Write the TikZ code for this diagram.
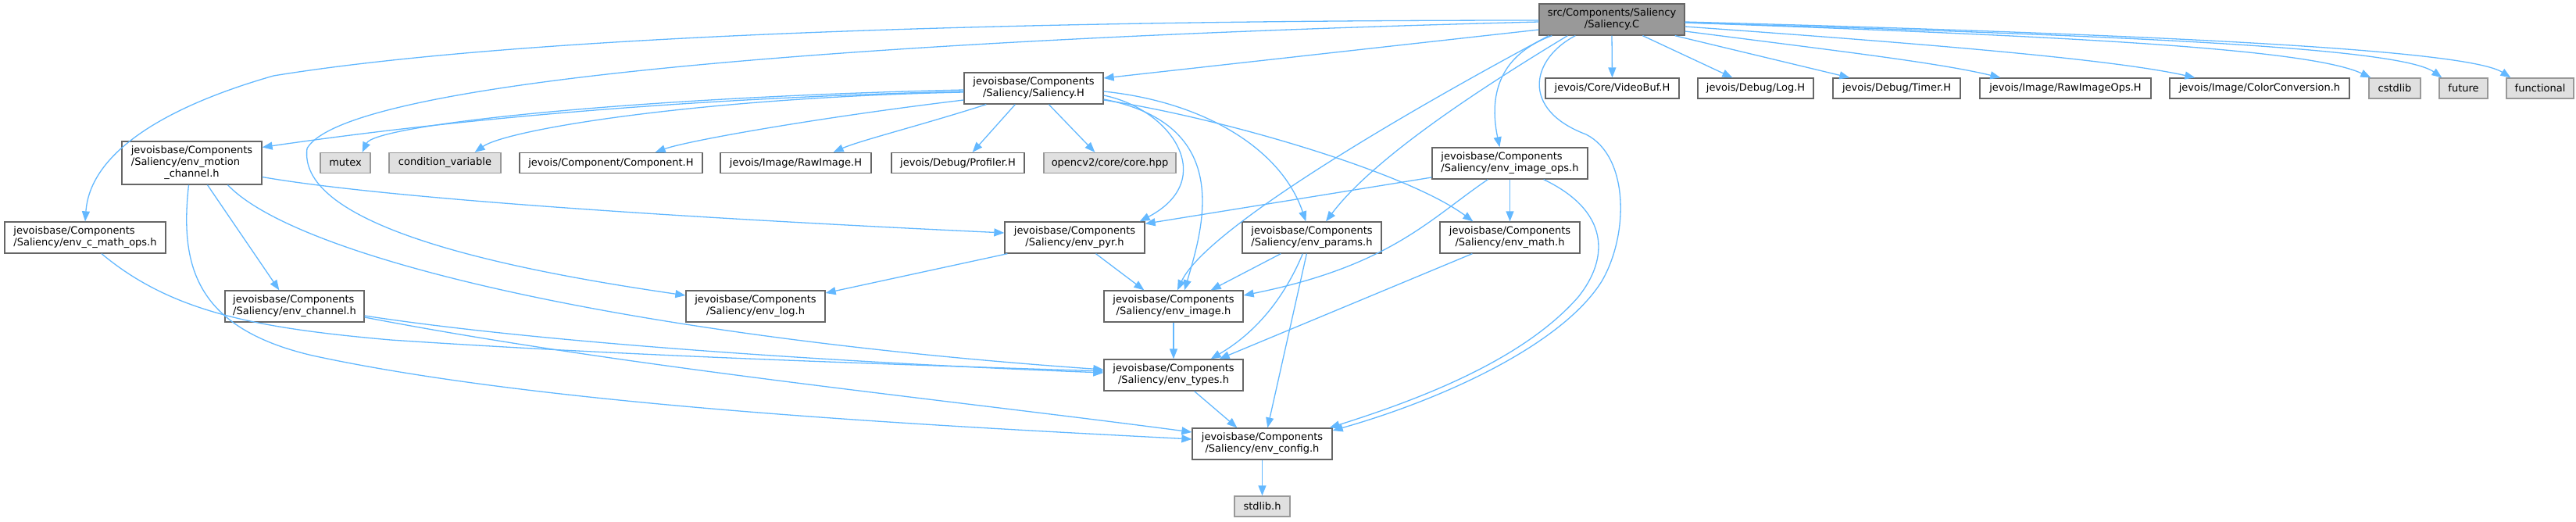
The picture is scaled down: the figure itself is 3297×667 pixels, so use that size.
\documentclass[tikz,border=0pt]{standalone}
\usepackage{fontspec}
\setmainfont{DejaVu Sans}
\usetikzlibrary{arrows.meta,calc}
\definecolor{edgec}{HTML}{63B8FF}
\definecolor{bordc}{HTML}{666666}
\definecolor{gfill}{HTML}{E0E0E0}
\definecolor{gbord}{HTML}{999999}
\definecolor{rootfill}{HTML}{999999}
\newcommand\twol[2]{\begin{tabular}{@{}l@{}}#1\\\multicolumn{1}{@{}c@{}}{#2}\end{tabular}}
\newcommand\threel[3]{\begin{tabular}{@{}l@{}}#1\\#2\\\multicolumn{1}{@{}c@{}}{#3}\end{tabular}}
\tikzset{
  nb/.style={draw=bordc, fill=white, line width=1.3pt, rectangle, inner sep=0pt, minimum height=26pt,
    font=\fontsize{13}{15}\selectfont},
  ng/.style={nb, draw=gbord, fill=gfill},
  nroot/.style={nb, fill=rootfill},
  e/.style={draw=edgec, line width=1.3pt, -{Triangle[length=13pt,width=10pt]}},
}
\begin{document}
\begin{tikzpicture}[x=1pt,y=-1pt]
\useasboundingbox (0,0) rectangle (3297,667);
% row 0
\node[nroot, minimum width=186pt, minimum height=40pt] (C) at (2063,25) {\twol{src/Components/Saliency}{/Saliency.C}};
% row 1
\node[nb, minimum width=178pt, minimum height=40pt] (H) at (1323,113) {\twol{jevoisbase/Components}{/Saliency/Saliency.H}};
\node[nb, minimum width=171pt] (VB) at (2063.5,113) {jevois/Core/VideoBuf.H};
\node[nb, minimum width=148pt] (LogH) at (2247,113) {jevois/Debug/Log.H};
\node[nb, minimum width=163pt] (Timer) at (2427.5,113) {jevois/Debug/Timer.H};
\node[nb, minimum width=219pt] (RIO) at (2643.5,113) {jevois/Image/RawImageOps.H};
\node[nb, minimum width=230pt] (CC) at (2892,113) {jevois/Image/ColorConversion.h};
\node[ng, minimum width=66pt] (cstdlib) at (3065,113) {cstdlib};
\node[ng, minimum width=62pt] (future) at (3153,113) {future};
\node[ng, minimum width=86pt] (functional) at (3251,113) {functional};
% row 2
\node[nb, minimum width=179pt, minimum height=55pt] (motion) at (245.5,208.5) {\threel{jevoisbase/Components}{/Saliency/env\_motion}{\_channel.h}};
\node[ng, minimum width=64pt] (mutex) at (442,208.5) {mutex};
\node[ng, minimum width=143pt] (cv) at (569.5,208.5) {condition\_variable};
\node[nb, minimum width=234pt] (comp) at (782,208.5) {jevois/Component/Component.H};
\node[nb, minimum width=193pt] (rimg) at (1018.5,208.5) {jevois/Image/RawImage.H};
\node[nb, minimum width=170pt] (prof) at (1226,208.5) {jevois/Debug/Profiler.H};
\node[ng, minimum width=169pt] (cvtwo) at (1420.5,208.5) {opencv2/core/core.hpp};
\node[nb, minimum width=199pt, minimum height=40pt] (iops) at (1932.5,209) {\twol{jevoisbase/Components}{/Saliency/env\_image\_ops.h}};
% row 3
\node[nb, minimum width=206pt, minimum height=40pt] (cmath) at (109,304) {\twol{jevoisbase/Components}{/Saliency/env\_c\_math\_ops.h}};
\node[nb, minimum width=179pt, minimum height=40pt] (pyr) at (1375.5,304) {\twol{jevoisbase/Components}{/Saliency/env\_pyr.h}};
\node[nb, minimum width=178pt, minimum height=40pt] (params) at (1679,304) {\twol{jevoisbase/Components}{/Saliency/env\_params.h}};
\node[nb, minimum width=179pt, minimum height=40pt] (math) at (1932.5,304) {\twol{jevoisbase/Components}{/Saliency/env\_math.h}};
% row 4
\node[nb, minimum width=178pt, minimum height=40pt] (chan) at (377,392) {\twol{jevoisbase/Components}{/Saliency/env\_channel.h}};
\node[nb, minimum width=178pt, minimum height=40pt] (elog) at (967,392) {\twol{jevoisbase/Components}{/Saliency/env\_log.h}};
\node[nb, minimum width=178pt, minimum height=40pt] (img) at (1502,392) {\twol{jevoisbase/Components}{/Saliency/env\_image.h}};
% row 5-7
\node[nb, minimum width=178pt, minimum height=40pt] (types) at (1502,480) {\twol{jevoisbase/Components}{/Saliency/env\_types.h}};
\node[nb, minimum width=179pt, minimum height=40pt] (config) at (1615.5,568) {\twol{jevoisbase/Components}{/Saliency/env\_config.h}};
\node[ng, minimum width=71pt] (stdlib) at (1615.5,648) {stdlib.h};

% edges from Saliency.C
\draw[e] ($(C.west)+(0,13)$) -- ($(H.east)+(0,-13)$);
\draw[e] (C.south) -- (VB.north);
\draw[e] ($(C.south west)+(133,0)$) -- ($(LogH.north west)+(45,0)$);
\draw[e] ($(C.south east)+(-13,0)$) -- ($(Timer.north west)+(22,0)$);
\draw[e] ($(C.east)+(0,15)$) .. controls (2350,65) and (2480,80) .. ($(RIO.north west)+(27,0)$);
\draw[e] ($(C.east)+(0,9)$) .. controls (2450,55) and (2700,75) .. ($(CC.north west)+(33,0)$);
\draw[e] ($(C.east)+(0,4)$) .. controls (2600,45) and (2950,60) .. ($(cstdlib.north west)+(3,0)$);
\draw[e] ($(C.east)+(0,4)$) .. controls (2700,45) and (3070,60) .. ($(future.north west)+(4,0)$);
\draw[e] ($(C.east)+(0,3)$) .. controls (2800,45) and (3160,65) .. ($(functional.north west)+(6,0)$);
\draw[e] ($(C.west)+(0,1)$) .. controls (1400,26) and (700,40) .. (350,97) .. controls (200,140) and (115,200) .. (cmath.north);
\draw[e] ($(C.west)+(0,3)$) .. controls (1300,45) and (450,90) .. (393,190) .. controls (380,290) and (650,345) .. ($(elog.west)+(0,-14)$);
\draw[e] ($(C.south west)+(13,0)$) .. controls (1750,170) and (1540,300) .. ($(img.north)+(5,0)$);
\draw[e] ($(C.south west)+(17,0)$) .. controls (1920,70) and (1905,120) .. ($(iops.north west)+(87,0)$);
\draw[e] ($(C.south west)+(37,0)$) .. controls (1900,110) and (1760,200) .. ($(params.north)+(18,0)$);
\draw[e] ($(C.south west)+(47,0)$) .. controls (1960,75) and (1945,140) .. (2030,172) .. controls (2085,200) and (2085,300) .. (2050,360) .. controls (2000,440) and (1850,510) .. ($(config.east)+(0,-17)$);

% edges from Saliency.H
\draw[e] ($(H.west)+(0,4)$) .. controls (900,125) and (600,150) .. ($(motion.east)+(0,-20)$);
\draw[e] ($(H.west)+(0,2)$) .. controls (800,125) and (480,160) .. ($(mutex.north east)+(-11,0)$);
\draw[e] ($(H.west)+(0,5)$) .. controls (900,125) and (650,165) .. ($(cv.north east)+(-34,0)$);
\draw[e] ($(H.west)+(0,15)$) .. controls (1050,150) and (880,180) .. ($(comp.north east)+(-61,0)$);
\draw[e] ($(H.south west)+(29,0)$) .. controls (1180,160) and (1100,180) .. ($(rimg.north east)+(-49,0)$);
\draw[e] ($(H.south west)+(66,0)$) -- ($(prof.north east)+(-67,0)$);
\draw[e] ($(H.south west)+(109,0)$) -- ($(cvtwo.north west)+(66,0)$);
\draw[e] ($(H.east)+(0,9)$) .. controls (1500,140) and (1560,230) .. ($(pyr.north east)+(-7,0)$);
\draw[e] ($(H.east)+(0,14)$) .. controls (1580,160) and (1540,290) .. ($(img.north)+(14,0)$);
\draw[e] ($(H.east)+(0,4)$) .. controls (1540,130) and (1640,190) .. ($(params.north west)+(82,0)$);
\draw[e] ($(H.east)+(0,15)$) .. controls (1560,150) and (1800,220) .. ($(math.north west)+(43,0)$);

% edges from env_motion_channel
\draw[e] ($(motion.east)+(0,18)$) .. controls (500,255) and (900,280) .. ($(pyr.west)+(0,-6)$);
\draw[e] ($(motion.south)+(20,0)$) -- ($(chan.north west)+(70,0)$);
\draw[e] ($(motion.south)+(46,0)$) .. controls (380,330) and (800,430) .. ($(types.west)+(0,-7)$);
\draw[e] ($(motion.south)+(-4,0)$) .. controls (230,340) and (250,420) .. (400,455) .. controls (700,520) and (1200,545) .. ($(config.west)+(0,-6)$);

% env_c_math_ops, env_channel
\draw[e] ($(cmath.south)+(21,0)$) .. controls (220,400) and (330,420) .. (500,435) .. controls (800,455) and (1100,465) .. ($(types.west)+(0,-5)$);
\draw[e] ($(chan.east)+(0,12)$) .. controls (700,440) and (1100,465) .. ($(types.west)+(0,-3)$);
\draw[e] ($(chan.east)+(0,14)$) .. controls (800,470) and (1200,510) .. ($(config.west)+(0,-15)$);

% env_pyr, env_image_ops
\draw[e] ($(pyr.south west)+(4,0)$) -- ($(elog.east)+(0,-17)$);
\draw[e] ($(pyr.south)+(27,0)$) -- ($(img.north west)+(52,0)$);
\draw[e] ($(iops.west)+(0,18)$) -- ($(pyr.north east)+(0,3)$);
\draw[e] ($(iops.south west)+(72,0)$) .. controls (1830,280) and (1780,340) .. ($(img.east)+(0,-14)$);
\draw[e] (iops.south) -- (math.north);
\draw[e] ($(iops.south east)+(-57,0)$) .. controls (2060,270) and (2060,330) .. (2020,380) .. controls (1950,460) and (1820,510) .. ($(config.north east)+(-4,0)$);

% env_params, env_math, env_image, env_types, env_config
\draw[e] ($(params.south west)+(50,0)$) -- ($(img.north east)+(-42,0)$);
\draw[e] ($(params.south west)+(78,0)$) .. controls (1640,390) and (1600,430) .. ($(types.north east)+(-42,0)$);
\draw[e] ($(params.south west)+(83,0)$) -- ($(config.north west)+(97,0)$);
\draw[e] ($(math.south west)+(42,0)$) -- ($(types.north east)+(-31,0)$);
\draw[e] (img.south) -- (types.north);
\draw[e] ($(types.south east)+(-63,0)$) -- ($(config.north west)+(58,0)$);
\draw[e] (config.south) -- (stdlib.north);
\end{tikzpicture}
\end{document}
